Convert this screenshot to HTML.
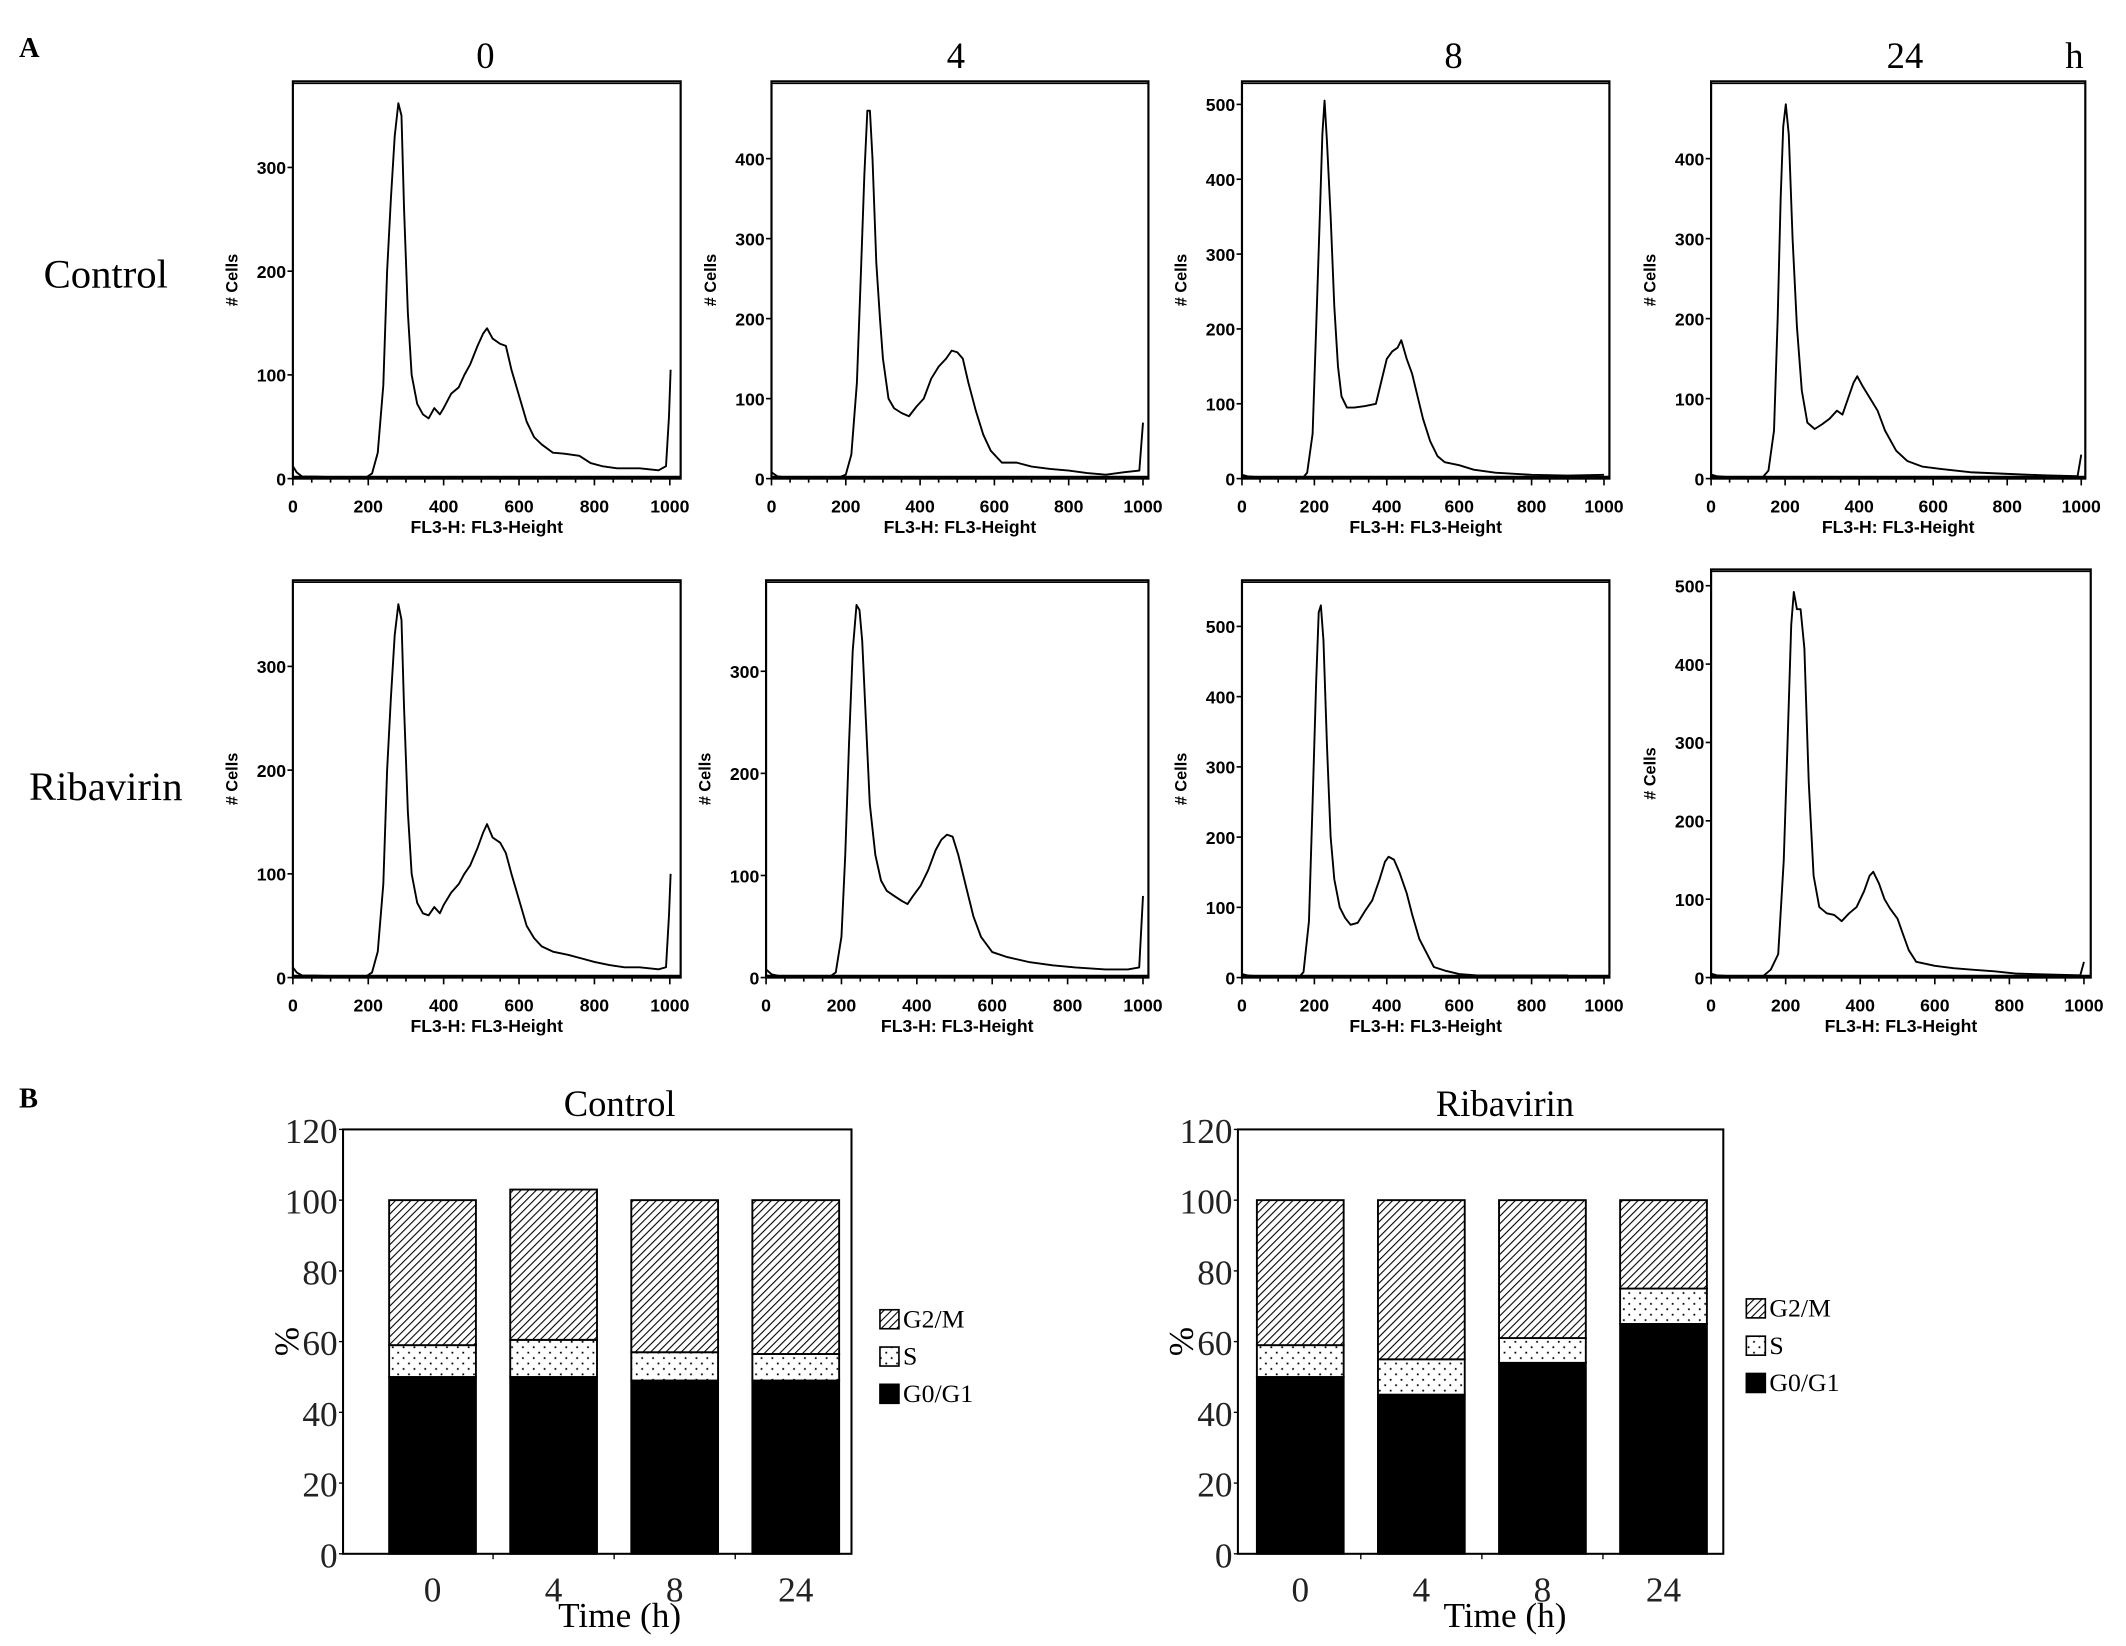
<!DOCTYPE html>
<html><head><meta charset="utf-8"><style>
html,body{margin:0;padding:0;background:#fff;}
svg{display:block;}
.ser{font-family:"Liberation Serif",serif;}
.sans{font-family:"Liberation Sans",sans-serif;font-weight:bold;}
</style></head><body>
<svg id="fig" width="2126" height="1646" viewBox="0 0 1568 1214" xmlns="http://www.w3.org/2000/svg">
<defs>
<pattern id="hatch" patternUnits="userSpaceOnUse" width="4" height="4" patternTransform="rotate(45)">
<rect width="4" height="4" fill="#fff"/><line x1="0" y1="0" x2="0" y2="4" stroke="#000" stroke-width="1.6"/>
</pattern>
<pattern id="dots" patternUnits="userSpaceOnUse" width="8" height="8">
<rect width="8" height="8" fill="#fff"/><rect x="1" y="1" width="1.3" height="1.3" fill="#000"/><rect x="5" y="5" width="1.3" height="1.3" fill="#000"/>
</pattern>
</defs>
<text class="ser" x="14" y="42" font-size="21" font-weight="bold">A</text>
<text class="ser" x="14" y="817" font-size="21" font-weight="bold">B</text>
<text class="ser" x="358" y="50" font-size="27" text-anchor="middle">0</text>
<text class="ser" x="705" y="50" font-size="27" text-anchor="middle">4</text>
<text class="ser" x="1072" y="50" font-size="27" text-anchor="middle">8</text>
<text class="ser" x="1405" y="50" font-size="27" text-anchor="middle">24</text>
<text class="ser" x="1530" y="50" font-size="27" text-anchor="middle">h</text>
<text class="ser" x="78" y="212" font-size="30" text-anchor="middle">Control</text>
<text class="ser" x="78" y="590" font-size="30" text-anchor="middle">Ribavirin</text>
<g id="hists"></g>
<g id="bars"></g>
</svg>
<script>
const NS="http://www.w3.org/2000/svg";
const xTicks=[0,200,400,600,800,1000];
// histogram data: [channel, count]
const histCtrl0=[[0,12],[10,6],[25,2],[60,2],[190,0],[210,5],[225,25],[240,90],[250,200],[260,270],[270,330],[280,362],[288,350],[295,260],[305,160],[315,100],[330,72],[345,62],[360,58],[375,68],[390,62],[400,68],[420,82],[440,88],[455,100],[470,110],[490,128],[505,140],[515,145],[530,135],[550,130],[565,128],[580,105],[600,80],[620,55],[640,40],[660,33],[690,25],[720,24],[760,22],[790,15],[820,12],[860,10],[920,10],[970,8],[990,12],[998,60],[1002,105]];
const histCtrl4=[[0,8],[15,3],[40,1],[180,1],[200,5],[215,30],[230,120],[240,250],[250,380],[258,460],[265,460],[272,400],[282,270],[292,200],[300,150],[315,100],[330,88],[350,82],[370,78],[390,90],[410,100],[430,125],[450,140],[470,150],[485,160],[500,158],[515,150],[530,120],[550,85],[570,55],[590,35],[620,20],[660,20],[700,15],[750,12],[800,10],[850,7],[900,5],[950,8],[990,10],[1000,70]];
const histCtrl8=[[0,5],[15,3],[40,2],[170,2],[180,8],[195,60],[205,200],[215,350],[222,460],[228,505],[235,450],[245,350],[255,230],[265,150],[275,110],[290,95],[310,95],[340,97],[370,100],[385,130],[400,160],[415,170],[430,175],[440,185],[455,160],[470,140],[485,110],[500,80],[520,50],[540,30],[560,22],[600,18],[640,12],[700,8],[800,5],[900,4],[1000,5]];
const histCtrl24=[[0,5],[15,3],[40,2],[140,2],[155,10],[170,60],[180,200],[188,350],[195,440],[202,468],[210,430],[220,300],[232,190],[245,110],[260,70],[280,62],[300,68],[320,75],[340,85],[355,80],[370,100],[385,120],[395,128],[410,115],[430,100],[450,85],[470,60],[500,35],[530,22],[570,15],[620,12],[700,8],[800,6],[900,4],[990,3],[1000,30]];
const histRiba0=[[0,10],[10,5],[25,2],[60,2],[190,0],[210,5],[225,25],[240,90],[250,200],[260,270],[270,330],[280,360],[288,345],[295,260],[305,160],[315,100],[330,72],[345,62],[360,60],[375,68],[390,62],[400,70],[420,82],[440,90],[455,100],[470,108],[490,125],[505,140],[515,148],[530,135],[550,130],[565,120],[580,100],[600,75],[620,50],[640,38],[660,30],[690,25],[730,22],[770,18],[800,15],[840,12],[880,10],[920,10],[970,8],[990,10],[998,60],[1002,100]];
const histRiba4=[[0,8],[15,3],[40,1],[170,1],[185,5],[200,40],[210,120],[220,230],[230,320],[240,365],[248,360],[255,330],[265,250],[275,170],[290,120],[305,95],[320,85],[340,80],[360,75],[375,72],[390,80],[410,90],[430,105],[450,125],[465,135],[480,140],[495,138],[510,120],[530,90],[550,60],[570,40],[600,25],[640,20],[700,15],[760,12],[820,10],[900,8],[960,8],[990,10],[1000,80]];
const histRiba8=[[0,5],[15,3],[40,2],[160,2],[170,8],[185,80],[195,250],[205,420],[212,520],[218,530],[225,480],[235,330],[245,200],[255,140],[270,100],[285,85],[300,75],[320,78],[340,95],[360,110],[380,140],[395,165],[405,172],[420,168],[435,150],[455,120],[470,90],[490,55],[510,35],[530,15],[560,10],[600,5],[650,3],[900,3]];
const histRiba24=[[0,5],[15,3],[40,2],[140,2],[160,10],[180,30],[195,150],[205,300],[215,450],[222,492],[230,470],[240,470],[250,420],[262,250],[275,130],[290,90],[310,82],[330,80],[350,72],[370,82],[390,90],[410,110],[425,130],[435,135],[450,120],[465,100],[480,88],[500,75],[515,55],[530,35],[550,20],[600,15],[650,12],[700,10],[760,8],[820,5],[900,4],[990,3],[1000,20]];
const yTicksCtrl0=[0,100,200,300], yTicksCtrl4=[0,100,200,300,400], yTicksCtrl8=[0,100,200,300,400,500], yTicksCtrl24=[0,100,200,300,400];
const yTicksRiba0=[0,100,200,300], yTicksRiba4=[0,100,200,300], yTicksRiba8=[0,100,200,300,400,500], yTicksRiba24=[0,100,200,300,400,500];

const panels=[
 {name:"control-0h",data:histCtrl0,ticks:yTicksCtrl0,L:216,R:502,T:60,B:353,x1000:494,perY:0.765},
 {name:"control-4h",data:histCtrl4,ticks:yTicksCtrl4,L:569,R:847,T:60,B:353,x1000:843,perY:0.59},
 {name:"control-8h",data:histCtrl8,ticks:yTicksCtrl8,L:916,R:1187,T:60,B:353,x1000:1183,perY:0.552},
 {name:"control-24h",data:histCtrl24,ticks:yTicksCtrl24,L:1262,R:1538,T:60,B:353,x1000:1535,perY:0.59},
 {name:"ribavirin-0h",data:histRiba0,ticks:yTicksRiba0,L:216,R:502,T:428,B:721,x1000:494,perY:0.765},
 {name:"ribavirin-4h",data:histRiba4,ticks:yTicksRiba4,L:565,R:847,T:428,B:721,x1000:843,perY:0.753},
 {name:"ribavirin-8h",data:histRiba8,ticks:yTicksRiba8,L:916,R:1187,T:428,B:721,x1000:1183,perY:0.518},
 {name:"ribavirin-24h",data:histRiba24,ticks:yTicksRiba24,L:1262,R:1542,T:420,B:721,x1000:1537,perY:0.578}
];
function mk(tag,attrs,parent){const e=document.createElementNS(NS,tag);for(const k in attrs)e.setAttribute(k,attrs[k]);parent.appendChild(e);return e;}
const hg=document.getElementById('hists');
panels.forEach(p=>{
 const g=mk('g',{},hg);
 
 
 const sx=v=>p.L+(v/1000)*(p.x1000-p.L);
 const sy=v=>p.B-v*p.perY;
 const fr=mk('rect',{x:p.L,y:p.T,width:p.R-p.L,height:p.B-p.T,fill:'none',stroke:'#000','stroke-width':1.6},g);
 
 
 mk('line',{x1:p.L,y1:p.T+1.5,x2:p.R,y2:p.T+1.5,stroke:'#000','stroke-width':1},g);
 const base=mk('line',{x1:p.L,y1:p.B-1,x2:p.R,y2:p.B-1,stroke:'#000','stroke-width':2.2},g);
 
 
 for(let v=0;v<=1000;v+=50){mk('line',{x1:sx(v),y1:p.B,x2:sx(v),y2:p.B+(v%200===0?5:3),stroke:'#000','stroke-width':1.2},g);}
 xTicks.forEach(v=>{const t=mk('text',{x:sx(v),y:p.B+25,'font-size':13,'text-anchor':'middle',class:'sans'},g);t.textContent=v;
  
  });
 p.ticks.forEach(v=>{mk('line',{x1:p.L-4,y1:sy(v),x2:p.L,y2:sy(v),stroke:'#000','stroke-width':1.2},g);
  const t=mk('text',{x:p.L-5,y:sy(v)+5,'font-size':13,'text-anchor':'end',class:'sans'},g);t.textContent=v;
  
  });
 const xl=mk('text',{x:(p.L+p.R)/2,y:p.B+40,'font-size':13,'text-anchor':'middle',class:'sans'},g);xl.textContent='FL3-H: FL3-Height';
 
 
 const cy=p.T+(p.B-p.T)*0.5;
 const yl=mk('text',{x:p.L-45,y:cy,'font-size':12,'text-anchor':'middle',class:'sans',transform:`rotate(-90 ${p.L-45} ${cy}) translate(0,4)`},g);yl.textContent='# Cells';
 
 
 const pts=p.data.map(d=>sx(d[0]).toFixed(1)+','+Math.max(p.T,sy(d[1])).toFixed(1)).join(' ');
 const pl=mk('polyline',{points:pts,fill:'none',stroke:'#000','stroke-width':1.4,'stroke-linejoin':'round'},g);
 
 
});

// Bar chart data
const timeLabels=["0","4","8","24"];
const ctrlG0G1=[50,50,49,49], ctrlS=[9,10.5,8,7.5], ctrlG2M=[41,42.5,43,43.5];
const ribaG0G1=[50,45,54,65], ribaS=[9,10,7,10], ribaG2M=[41,45,39,25];
const yTicksBar=[0,20,40,60,80,100,120];
const charts=[
 {name:"control",title:"Control",g0:ctrlG0G1,s:ctrlS,g2:ctrlG2M,L:253,R:628,leg:649,legY:966,bar0:287,step:89.3,tx:457},
 {name:"ribavirin",title:"Ribavirin",g0:ribaG0G1,s:ribaS,g2:ribaG2M,L:913,R:1271,leg:1288,legY:958,bar0:927,step:89.3,tx:1110}
];
const bg=document.getElementById('bars');
const B0=1146,T120=833,bw=64;
charts.forEach(c=>{
 const g=mk('g',{},bg);
 
 
 const sy=v=>B0-v*(B0-T120)/120;
 const tt=mk('text',{x:c.tx,y:823,'font-size':27,'text-anchor':'middle',class:'ser'},g);tt.textContent=c.title;
 
 
 mk('rect',{x:c.L,y:T120,width:c.R-c.L,height:B0-T120,fill:'none',stroke:'#000','stroke-width':1.5},g);
 yTicksBar.forEach(v=>{mk('line',{x1:c.L-3,y1:sy(v),x2:c.L,y2:sy(v),stroke:'#000','stroke-width':1},g);
  const t=mk('text',{x:c.L-4,y:sy(v)+10,'font-size':26,'text-anchor':'end',class:'ser','fill':'#222'},g);t.textContent=v;
  
  });
 const yl=mk('text',{x:0,y:0,'font-size':26,'text-anchor':'middle',class:'ser',transform:`translate(${c.L-33},${sy(60)}) rotate(-90)`},g);yl.textContent='%';
 
 
 timeLabels.forEach((lab,i)=>{
  const x=c.bar0+i*c.step;
  if(i>0) mk('line',{x1:x-(c.step-bw)/2,y1:B0,x2:x-(c.step-bw)/2,y2:B0+4,stroke:'#000','stroke-width':1},g);
  const segs=[[0,c.g0[i],'#000','g0-g1'],[c.g0[i],c.g0[i]+c.s[i],'url(#dots)','s-phase'],[c.g0[i]+c.s[i],c.g0[i]+c.s[i]+c.g2[i],'url(#hatch)','g2-m']];
  segs.forEach(sg=>{const r=mk('rect',{x:x,y:sy(sg[1]),width:bw,height:sy(sg[0])-sy(sg[1]),fill:sg[2],stroke:'#000','stroke-width':1.4},g);
   
   });
  const t=mk('text',{x:x+bw/2,y:B0+35,'font-size':26,'text-anchor':'middle',class:'ser',fill:'#222'},g);t.textContent=lab;
  
  
 });
 const xt=mk('text',{x:c.tx,y:1200,'font-size':26,'text-anchor':'middle',class:'ser'},g);xt.textContent='Time (h)';
 
 
 [['url(#hatch)','G2/M'],['url(#dots)','S'],['#000','G0/G1']].forEach((l,k)=>{
  const y=c.legY+k*27.5;
  const lg=mk('g',{},g);
  
  
  mk('rect',{x:c.leg,y:y,width:14,height:14,fill:l[0],stroke:'#000','stroke-width':1.2},lg);
  const t=mk('text',{x:c.leg+17,y:y+13,'font-size':19,class:'ser'},lg);t.textContent=l[1];
 });
});
</script>
</body></html>
